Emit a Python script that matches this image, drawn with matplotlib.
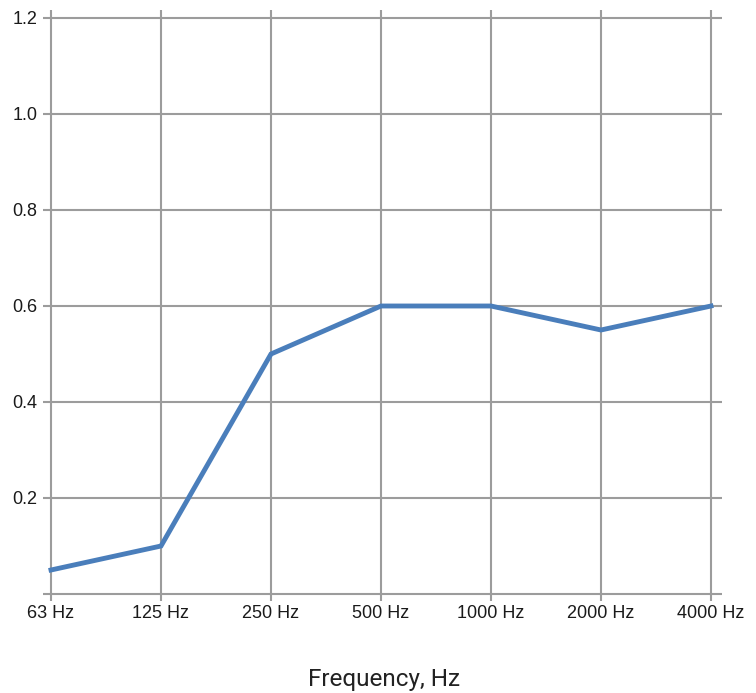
import matplotlib
matplotlib.use("Agg")
import matplotlib.pyplot as plt

# -----------------------------
# DATA
# -----------------------------
bands = ["63 Hz", "125 Hz", "250 Hz", "500 Hz", "1000 Hz", "2000 Hz", "4000 Hz"]
absorption = [0.05, 0.10, 0.50, 0.60, 0.60, 0.55, 0.60]
y_ticks = [0.2, 0.4, 0.6, 0.8, 1.0, 1.2]

W, H = 756, 693
fig = plt.figure(figsize=(W / 100, H / 100), dpi=100)
ax = fig.add_axes([43 / W, (H - 601) / H, (722 - 43) / W, (601 - 10) / H])

x = list(range(len(bands)))
ax.plot(x, absorption, color="#4a7ebb", lw=3.5, solid_joinstyle="miter", zorder=3)

ax.set_xlim(-8 / 110, 671 / 110)
ax.set_ylim(-7 / 480, 1.2 + 8 / 480)

# grid lines
grid_kw = dict(color="#9c9c9c", lw=1.5, zorder=1)
for xi in x:
    ax.axvline(xi, **grid_kw)
for yv in [0.0] + y_ticks:
    ax.axhline(yv, **grid_kw)

ax.set_xticks(x)
ax.set_xticklabels(bands)
ax.set_yticks(y_ticks)
ax.set_yticklabels([f"{v:.1f}" for v in y_ticks])
ax.tick_params(length=0, labelsize=13, colors="#1a1a1a")
ax.tick_params(axis="y", pad=4)
ax.tick_params(axis="x", pad=3)
for lab in ax.get_xticklabels() + ax.get_yticklabels():
    lab.set_fontfamily("Liberation Sans")

for s in ax.spines.values():
    s.set_visible(False)

fig.text(384 / W, (H - 686) / H, "Frequency, Hz", ha="center", va="baseline",
         fontsize=17.5, family="Roboto", color="#222222")

fig.savefig("out.png", dpi=100)
